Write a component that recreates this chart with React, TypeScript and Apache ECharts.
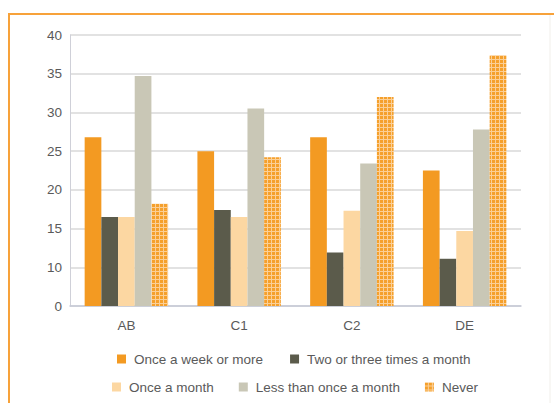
import React, { useEffect, useRef } from "react";
import * as echarts from "echarts";

const categories = ["AB", "C1", "C2", "DE"];
const seriesNames = [
  "Once a week or more",
  "Two or three times a month",
  "Once a month",
  "Less than once a month",
  "Never",
];
const onceAWeekOrMore = [26.8, 25.0, 26.8, 22.5];
const twoOrThreeTimesAMonth = [16.5, 17.4, 11.9, 11.1];
const onceAMonth = [16.5, 16.5, 17.3, 14.7];
const lessThanOnceAMonth = [34.7, 30.5, 23.4, 27.8];
const never = [18.2, 24.2, 32.0, 37.4];
const yTicks = [5, 10, 15, 20, 25, 30, 35, 40];
const yTickLabels = ["0", "10", "15", "20", "25", "30", "35", "40"];

function makePattern(): string {
  const c = document.createElement("canvas");
  c.width = 4;
  c.height = 4;
  const ctx = c.getContext("2d");
  if (ctx) {
    ctx.fillStyle = "#fbcf96";
    ctx.fillRect(0, 0, 4, 4);
    ctx.fillStyle = "#f5a02c";
    ctx.fillRect(0, 0, 3, 3);
  }
  return c.toDataURL();
}

export default function App() {
  const ref = useRef<HTMLDivElement>(null);
  useEffect(() => {
    if (!ref.current) return;
    const chart = echarts.init(ref.current, undefined, { renderer: "svg" });
    const pattern = { image: makePattern(), repeat: "repeat" as const };
    const colors = ["#f39a22", "#5b5b4b", "#fcd7a2", "#c9c7b6"];
    const values = [onceAWeekOrMore, twoOrThreeTimesAMonth, onceAMonth, lessThanOnceAMonth, never];
    const font = { fontFamily: "Liberation Sans, Arial, sans-serif", fontSize: 13.5, color: "#5a5a5a" };
    chart.setOption({
      animation: false,
      backgroundColor: "#ffffff",
      grid: { left: 70, right: 33, top: 35, bottom: 97, containLabel: false },
      xAxis: {
        type: "category",
        data: categories,
        axisLine: { show: true, lineStyle: { color: "#c5c9d6", width: 1.5 } },
        axisTick: { show: false },
        axisLabel: { ...font, margin: 12 },
      },
      yAxis: {
        type: "value",
        min: 5,
        max: 40,
        interval: 5,
        axisLine: { show: true, lineStyle: { color: "#cfd0d8", width: 1 } },
        axisTick: { show: false },
        splitLine: { show: true, lineStyle: { color: "#d8d8d8", width: 1.5 } },
        axisLabel: {
          ...font,
          margin: 8,
          formatter: (v: number) => {
            const i = yTicks.indexOf(v);
            return i >= 0 ? yTickLabels[i] : "";
          },
        },
      },
      legend: [
        {
          data: seriesNames.slice(0, 2),
          left: 112,
          top: 347,
          itemWidth: 9,
          itemHeight: 9,
          itemGap: 27,
          icon: "rect",
          textStyle: { ...font, padding: [0, 0, 0, 3] },
        },
        {
          data: seriesNames.slice(2),
          left: 107,
          top: 375,
          itemWidth: 9,
          itemHeight: 9,
          itemGap: 25,
          icon: "rect",
          textStyle: { ...font, padding: [0, 0, 0, 3] },
        },
      ],
      series: seriesNames.map((name, i) => ({
        name,
        type: "bar",
        data: values[i],
        barGap: "0%",
        barCategoryGap: "26%",
        itemStyle: { color: i < 4 ? colors[i] : pattern },
      })),
      graphic: [
        { type: "line", shape: { x1: 8, y1: 14, x2: 554, y2: 14 }, style: { stroke: "#f7a23a", lineWidth: 2 } },
        { type: "line", shape: { x1: 9, y1: 14, x2: 9, y2: 403 }, style: { stroke: "#f7a23a", lineWidth: 2 } },
        { type: "line", shape: { x1: 550, y1: 15, x2: 550, y2: 403 }, style: { stroke: "#f1efea", lineWidth: 1 } },
      ],
    });
    return () => chart.dispose();
  }, []);
  return (
    <div
      ref={ref}
      style={{ position: "fixed", left: 0, top: 0, width: 554, height: 403 }}
    />
  );
}
